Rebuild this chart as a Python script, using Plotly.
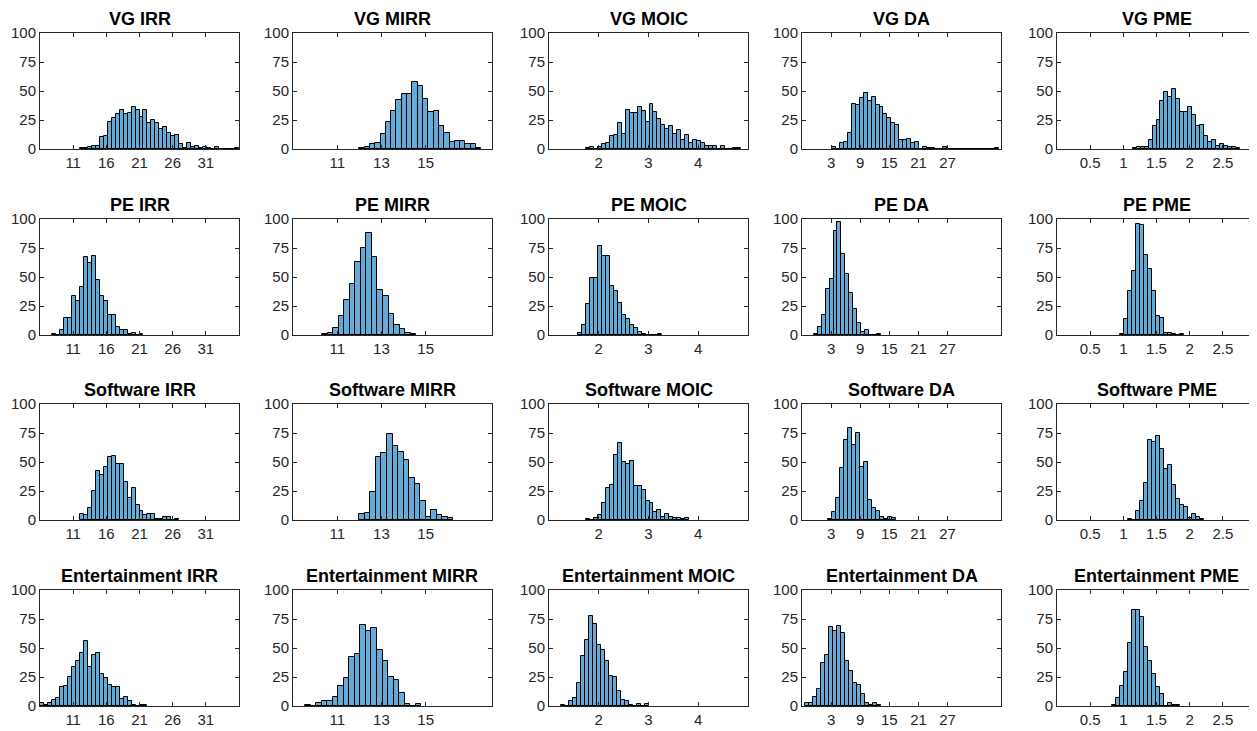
import plotly.graph_objects as go

# ---------------- data (histogram bin counts) ----------------
groups = ["VG", "PE", "Software", "Entertainment"]
metrics = ["IRR", "MIRR", "MOIC", "DA", "PME"]

# bin start (left edge of first bin) and bin width per panel
vg_irr_start, vg_irr_width = 12.0, 0.6
vg_irr = [1, 1, 2, 3, 3, 10, 11, 23, 27, 30, 34, 30, 31, 36, 34, 28, 34, 22, 25, 22,
          17, 19, 14, 11, 12, 4, 1, 5, 2, 3, 1, 2, 1, 0, 2, 0, 0, 0, 0, 1]
vg_mirr_start, vg_mirr_width = 12.0, 0.24
vg_mirr = [1, 2, 4, 5, 13, 23, 33, 42, 47, 47, 58, 54, 43, 32, 33, 20, 14, 6, 7, 7, 4, 4, 1]
vg_moic_start, vg_moic_width = 1.74, 0.08
vg_moic = [1, 2, 0, 2, 4, 5, 11, 12, 22, 13, 34, 31, 31, 36, 33, 23, 39, 32, 26, 21,
           17, 20, 13, 16, 8, 12, 5, 8, 7, 5, 3, 3, 3, 0, 3, 0, 0, 1, 1]
vg_da_start, vg_da_width = 3.13, 0.82
vg_da = [2, 0, 5, 6, 14, 39, 38, 44, 48, 41, 45, 38, 36, 30, 27, 22, 21, 8, 8, 9,
         5, 6, 0, 2, 1, 1, 0, 0, 2, 0, 0, 0, 0, 0, 0, 0, 0, 0, 0, 0, 0, 1]
vg_pme_start, vg_pme_width = 1.14, 0.06
vg_pme = [1, 2, 2, 2, 8, 20, 25, 41, 49, 45, 52, 43, 32, 32, 36, 29, 20, 21, 11, 6,
          8, 3, 4, 3, 2, 2, 1]

pe_irr_start, pe_irr_width = 7.8, 0.6
pe_irr = [1, 0, 4, 15, 15, 34, 29, 41, 67, 62, 68, 47, 34, 29, 17, 17, 7, 4, 4, 1, 2, 0, 1]
pe_mirr_start, pe_mirr_width = 10.32, 0.25
pe_mirr = [1, 2, 6, 16, 30, 44, 63, 75, 88, 67, 39, 34, 18, 9, 5, 2, 1]
pe_moic_start, pe_moic_width = 1.585, 0.08
pe_moic = [2, 9, 27, 49, 49, 77, 68, 68, 42, 38, 28, 17, 14, 9, 6, 3, 1, 0, 0, 0, 1]
pe_da_start, pe_da_width = -0.61, 0.82
pe_da = [1, 7, 17, 40, 48, 90, 97, 70, 53, 36, 22, 10, 3, 4, 0, 0, 1]
pe_pme_start, pe_pme_width = 0.95, 0.06
pe_pme = [1, 14, 38, 55, 96, 95, 69, 57, 38, 16, 15, 2, 2, 1, 0, 1]

sw_irr_start, sw_irr_width = 12.0, 0.6
sw_irr = [5, 4, 10, 25, 42, 39, 46, 54, 55, 48, 48, 33, 19, 28, 13, 8, 4, 5, 5, 1,
          1, 3, 3, 0, 1]
sw_mirr_start, sw_mirr_width = 12.0, 0.25
sw_mirr = [5, 6, 24, 54, 58, 74, 64, 59, 52, 36, 31, 16, 3, 9, 4, 3, 2]
sw_moic_start, sw_moic_width = 1.74, 0.08
sw_moic = [1, 0, 2, 4, 15, 28, 30, 56, 66, 50, 48, 51, 29, 29, 26, 16, 15, 7, 9, 3,
           5, 3, 2, 2, 1, 2]
sw_da_start, sw_da_width = 2.45, 0.82
sw_da = [1, 7, 19, 45, 69, 79, 65, 75, 46, 50, 17, 10, 8, 3, 1, 3, 2]
sw_pme_start, sw_pme_width = 1.075, 0.06
sw_pme = [1, 0, 8, 16, 32, 69, 67, 72, 61, 44, 47, 30, 18, 13, 11, 2, 5, 3, 1]

en_irr_start, en_irr_width = 6.0, 0.6
en_irr = [3, 1, 3, 5, 7, 16, 17, 25, 34, 39, 46, 56, 34, 44, 46, 28, 24, 18, 16, 16,
          6, 8, 4, 1, 0, 1, 1]
en_mirr_start, en_mirr_width = 9.55, 0.25
en_mirr = [1, 0, 3, 4, 4, 8, 17, 24, 42, 45, 70, 65, 67, 48, 39, 25, 22, 11, 2, 0, 2]
en_moic_start, en_moic_width = 1.25, 0.08
en_moic = [1, 0, 4, 7, 20, 43, 57, 78, 71, 53, 48, 39, 26, 25, 13, 5, 4, 1, 0, 2, 0, 2]
en_da_start, en_da_width = -2.32, 0.82
en_da = [3, 3, 8, 15, 37, 44, 68, 65, 69, 63, 39, 30, 20, 18, 10, 3, 1, 3, 1]
en_pme_start, en_pme_width = 0.835, 0.06
en_pme = [1, 7, 17, 29, 54, 83, 83, 77, 51, 39, 28, 16, 10, 0, 3, 1, 1]

# axis limits and tick labels per metric (column)
x_ranges = {"IRR": [6, 36], "MIRR": [9, 18], "MOIC": [1, 5], "DA": [-3, 38], "PME": [0, 3]}
x_ticks = {"IRR": [11, 16, 21, 26, 31], "MIRR": [11, 13, 15], "MOIC": [2, 3, 4],
           "DA": [3, 9, 15, 21, 27], "PME": [0.5, 1, 1.5, 2, 2.5]}
y_range = [0, 100]
y_ticks = [0, 25, 50, 75, 100]

panels = {
    ("VG", "IRR"): (vg_irr_start, vg_irr_width, vg_irr),
    ("VG", "MIRR"): (vg_mirr_start, vg_mirr_width, vg_mirr),
    ("VG", "MOIC"): (vg_moic_start, vg_moic_width, vg_moic),
    ("VG", "DA"): (vg_da_start, vg_da_width, vg_da),
    ("VG", "PME"): (vg_pme_start, vg_pme_width, vg_pme),
    ("PE", "IRR"): (pe_irr_start, pe_irr_width, pe_irr),
    ("PE", "MIRR"): (pe_mirr_start, pe_mirr_width, pe_mirr),
    ("PE", "MOIC"): (pe_moic_start, pe_moic_width, pe_moic),
    ("PE", "DA"): (pe_da_start, pe_da_width, pe_da),
    ("PE", "PME"): (pe_pme_start, pe_pme_width, pe_pme),
    ("Software", "IRR"): (sw_irr_start, sw_irr_width, sw_irr),
    ("Software", "MIRR"): (sw_mirr_start, sw_mirr_width, sw_mirr),
    ("Software", "MOIC"): (sw_moic_start, sw_moic_width, sw_moic),
    ("Software", "DA"): (sw_da_start, sw_da_width, sw_da),
    ("Software", "PME"): (sw_pme_start, sw_pme_width, sw_pme),
    ("Entertainment", "IRR"): (en_irr_start, en_irr_width, en_irr),
    ("Entertainment", "MIRR"): (en_mirr_start, en_mirr_width, en_mirr),
    ("Entertainment", "MOIC"): (en_moic_start, en_moic_width, en_moic),
    ("Entertainment", "DA"): (en_da_start, en_da_width, en_da),
    ("Entertainment", "PME"): (en_pme_start, en_pme_width, en_pme),
}

# ---------------- layout ----------------
W, H = 1257, 731
OFF = 8  # the page body margin shifts the figure by 8 px; compensate
col_left = [40, 293, 549, 802, 1057]
plot_w = 199
row_top = [33, 219, 404, 590]
plot_h = 116

FONT = "Arial, 'Liberation Sans', Helvetica, sans-serif"
AX = "#262626"
BAR = "rgb(102,170,215)"

fig = go.Figure()
layout = dict(width=W, height=H, margin=dict(l=0, r=0, t=0, b=0, pad=0, autoexpand=False),
              template="none",
              paper_bgcolor="white", plot_bgcolor="white", showlegend=False,
              bargap=0, font=dict(family=FONT, color=AX))
annotations = []

k = 0
for r, g in enumerate(groups):
    for c, m in enumerate(metrics):
        k += 1
        start, width, counts = panels[(g, m)]
        xa = "x" if k == 1 else f"x{k}"
        ya = "y" if k == 1 else f"y{k}"
        fig.add_trace(go.Bar(
            x0=start + width / 2, dx=width, y=counts, width=width,
            marker=dict(color=BAR, line=dict(color="black", width=1)),
            xaxis=xa, yaxis=ya, hoverinfo="x+y"))
        x0 = (col_left[c] - OFF) / W
        x1 = (col_left[c] - OFF + plot_w) / W
        y1 = 1 - (row_top[r] - OFF) / H
        y0 = 1 - (row_top[r] - OFF + plot_h) / H
        axis_common = dict(showline=True, mirror="ticks", linecolor=AX, linewidth=1,
                           ticks="inside", ticklen=4, tickcolor=AX, tickwidth=1,
                           showgrid=False, zeroline=False, automargin=False,
                           tickfont=dict(family=FONT, size=15, color=AX))
        layout["xaxis" if k == 1 else f"xaxis{k}"] = dict(
            domain=[x0, x1], anchor=ya, range=x_ranges[m], tickmode="array",
            tickvals=x_ticks[m], ticktext=[str(v) for v in x_ticks[m]], **axis_common)
        layout["yaxis" if k == 1 else f"yaxis{k}"] = dict(
            domain=[y0, y1], anchor=xa, range=y_range, tickmode="array",
            tickvals=y_ticks, **axis_common)
        annotations.append(dict(
            text=f"<b>{g} {m}</b>", x=(x0 + x1) / 2, y=y1, xref="paper", yref="paper",
            xanchor="center", yanchor="bottom", yshift=2, showarrow=False,
            font=dict(family=FONT, size=18, color="black")))

layout["annotations"] = annotations
fig.update_layout(**layout)
fig.write_html("out.html")
